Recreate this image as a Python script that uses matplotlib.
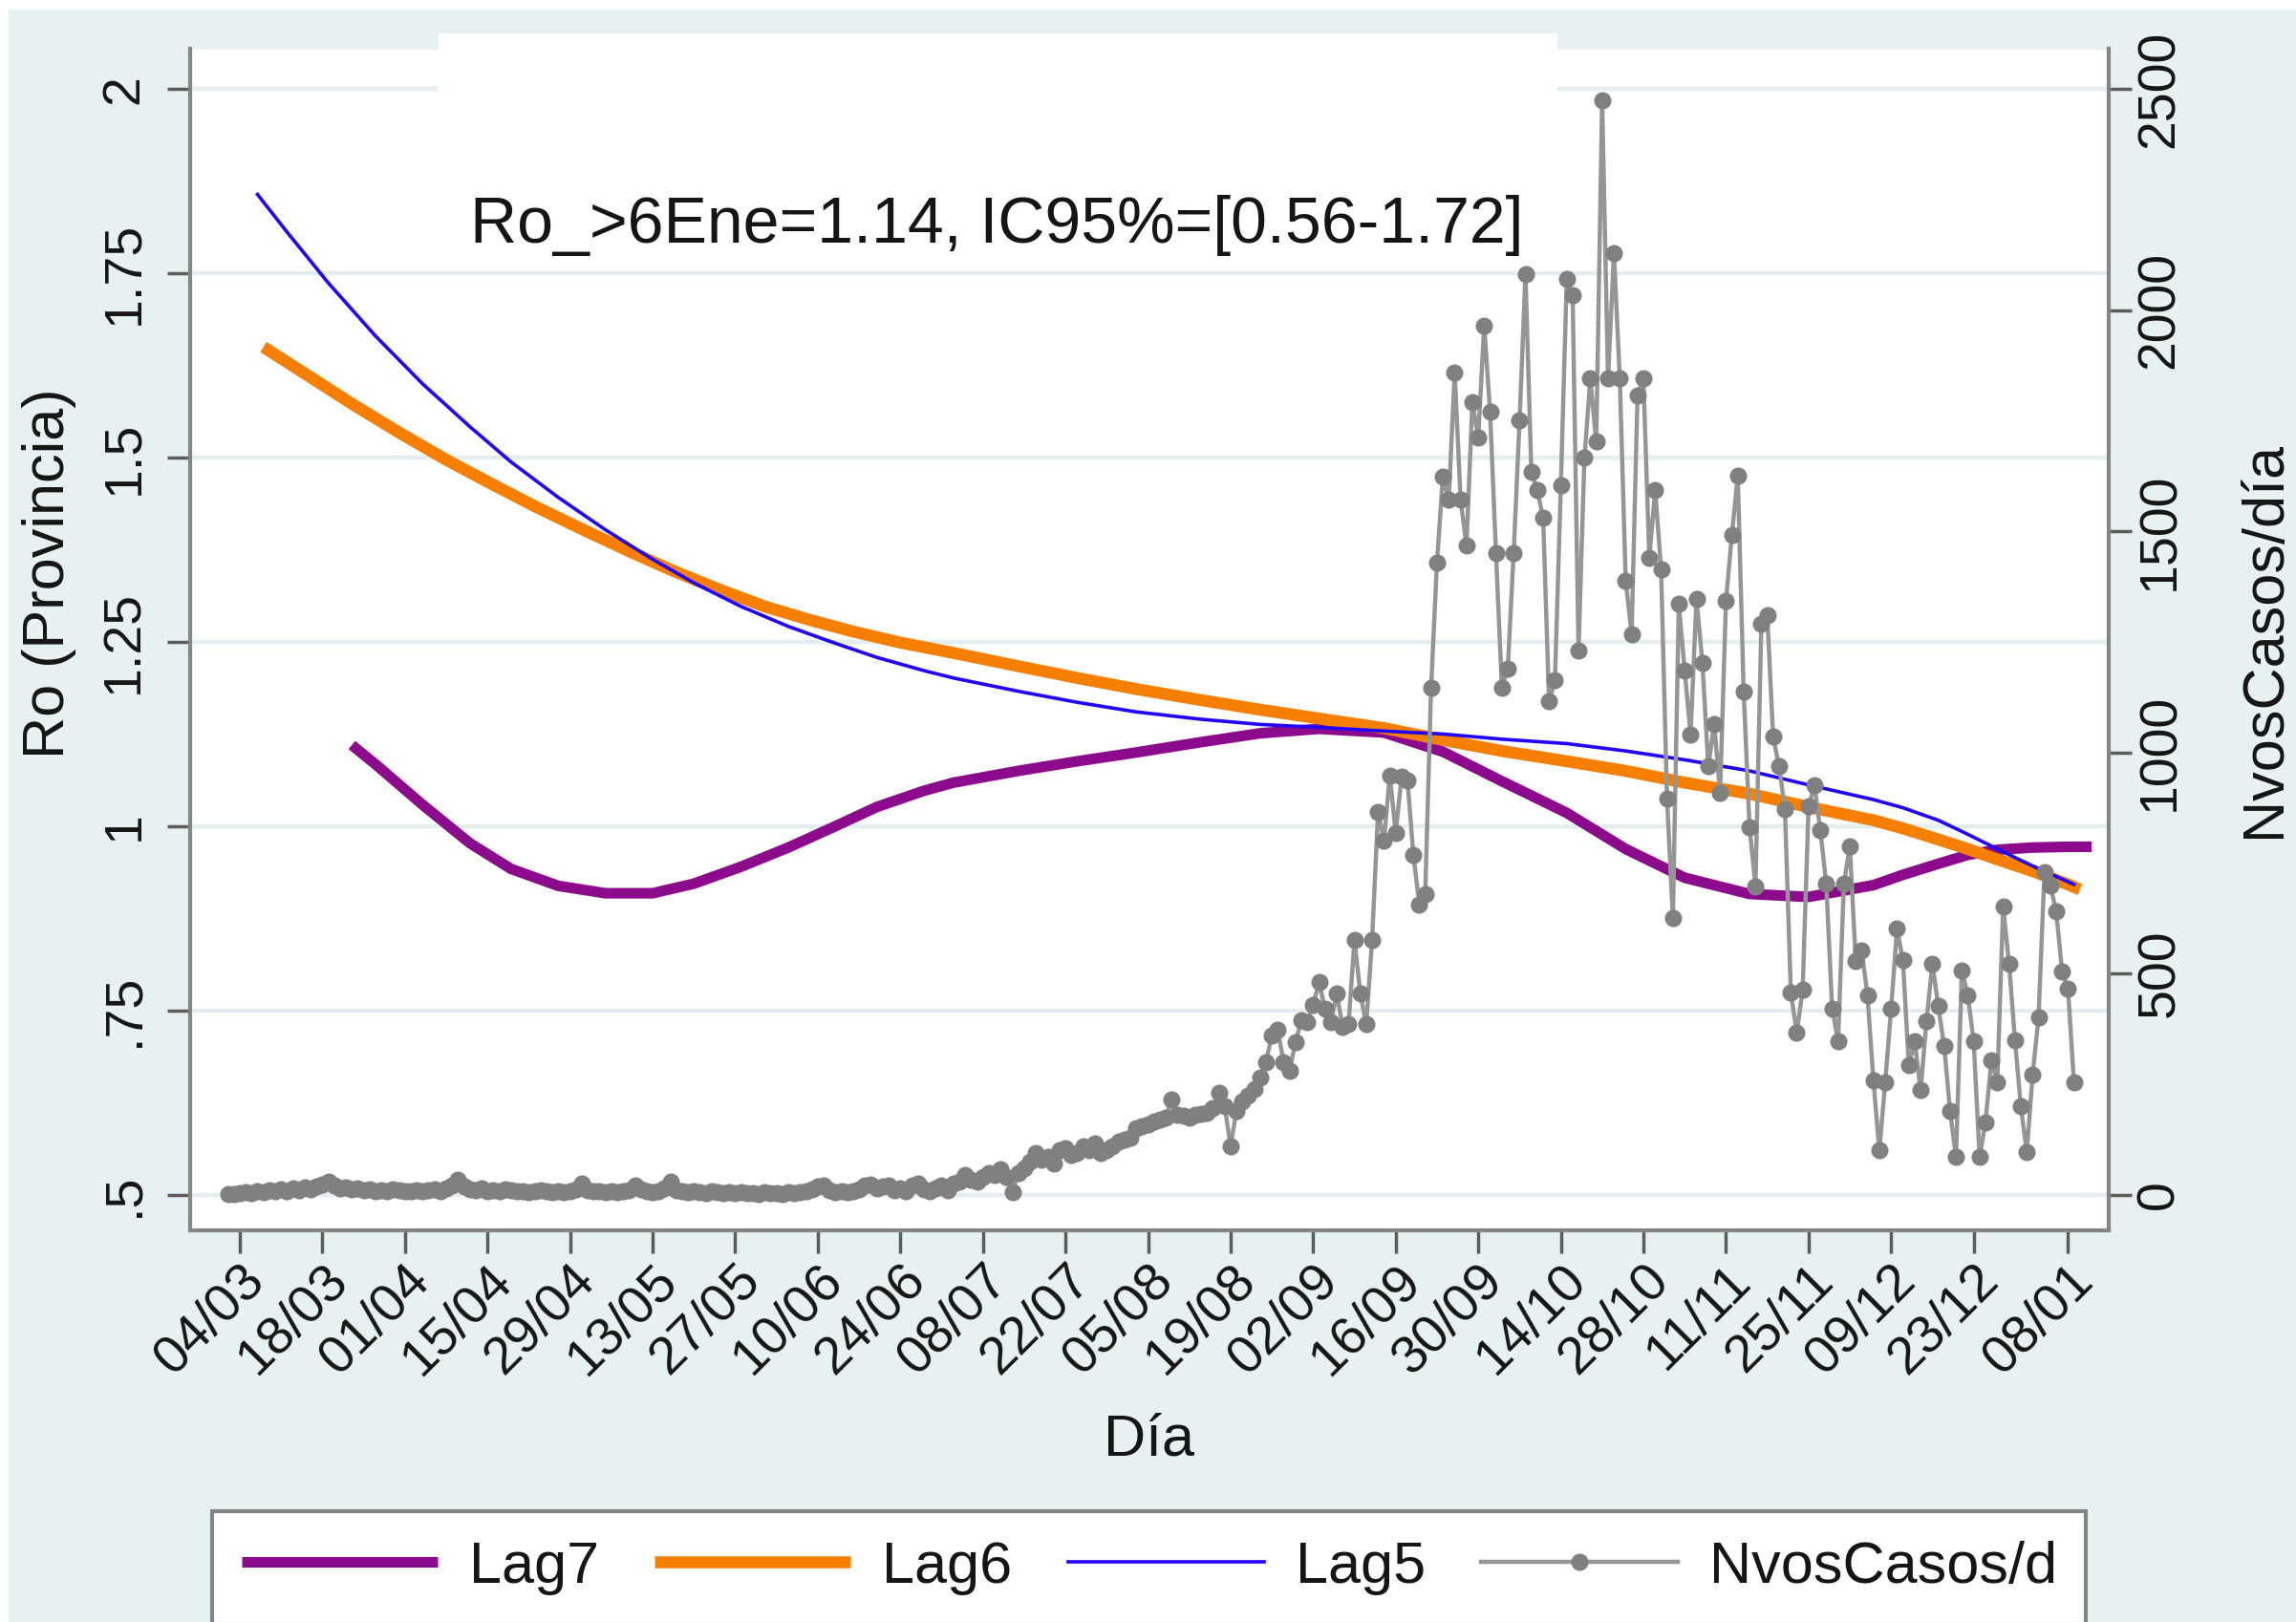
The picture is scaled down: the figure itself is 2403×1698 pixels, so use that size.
import numpy as np
import pandas as pd
import matplotlib
matplotlib.use("Agg")
import matplotlib.pyplot as plt
from matplotlib.patches import Rectangle

plt.rcParams['font.family'] = ['Liberation Sans', 'DejaVu Sans']

# ---------------- data ----------------
DAY0 = pd.Timestamp('2020-03-04')          # day 0 of the axis (first tick)

# daily new cases (right axis), one value per day starting at day -2 (02/03/2020)
cases_first_day = -2
cases = [
    # d -2 .. 117
    1, 2, 3, 5, 4, 8, 6, 10, 7, 12,
    9, 14, 11, 16, 13, 18, 24, 30, 20, 15,
    17, 12, 14, 10, 13, 9, 11, 8, 12, 10,
    9, 7, 11, 8, 10, 12, 9, 15, 22, 35,
    18, 12, 10, 14, 9, 11, 8, 13, 10, 7,
    9, 6, 8, 10, 7, 5, 8, 6, 9, 12,
    25, 10, 7, 9, 6, 8, 5, 7, 10, 22,
    12, 8, 6, 9, 14, 30, 11, 7, 5, 8,
    6, 4, 7, 5, 3, 6, 4, 5, 3, 4,
    2, 5, 3, 4, 2, 6, 3, 5, 8, 12,
    18, 22, 10, 6, 8, 5, 9, 12, 20, 24,
    15, 18, 22, 10, 14, 8, 20, 25, 12, 9,
    # d 118 .. 145
    15, 20, 10, 25, 30, 45, 35, 30, 40, 50,
    45, 58, 40, 5, 50, 60, 75, 95, 80, 85,
    70, 100, 105, 90, 95, 110, 100, 115,
    # d 146 .. 201
    95, 100, 110, 120, 125, 130, 150, 155, 160, 165,
    170, 175, 215, 180, 178, 175, 180, 182, 185, 195,
    230, 200, 110, 190, 210, 225, 240, 265, 300, 360,
    372, 300, 280, 345, 395, 390, 430, 480, 420, 390,
    455, 380, 385, 575, 455, 385, 577, 866, 800, 948,
    818, 946, 936, 768, 657, 680,
    # d 202 .. 311
    1147, 1430, 1624, 1572, 1860, 1572, 1467, 1792, 1713, 1965,
    1771, 1451, 1147, 1189, 1451, 1750, 2081, 1635, 1593, 1530,
    1116, 1163, 1604, 2070, 2033, 1231, 1666, 1845, 1703, 2474,
    1845, 2128, 1845, 1388, 1268, 1808, 1845, 1441, 1593, 1414,
    896, 625, 1336, 1185, 1041, 1348, 1203, 969, 1065, 908,
    1342, 1492, 1625, 1137, 830, 698, 1290, 1310, 1035, 969,
    872, 457, 366, 463, 878, 926, 824, 704, 421, 348,
    704, 788, 529, 553, 451, 258, 100, 254, 420, 601,
    530, 293, 347, 236, 393, 522, 426, 336, 189, 85,
    508, 451, 347, 85, 164, 304, 254, 651, 522, 350,
    200, 96, 272, 401, 730, 700, 640, 504, 465, 254,
]

# fitted Ro curves (left axis): day offset from DAY0 and Ro value
lag7_day = [19, 23, 31, 39, 46, 54, 62, 70, 77, 85, 93, 101, 108, 116, 121, 132,
            142, 152, 163, 173, 183, 194, 204, 214, 225, 235, 245, 256, 266, 277,
            282, 288, 293, 298, 304, 310, 314]
lag7_ro = [1.110, 1.084, 1.029, 0.977, 0.942, 0.919, 0.909, 0.909, 0.922, 0.945,
           0.971, 1.000, 1.026, 1.048, 1.059, 1.075, 1.088, 1.100, 1.114, 1.126,
           1.132, 1.127, 1.101, 1.061, 1.018, 0.969, 0.930, 0.908, 0.904, 0.920,
           0.934, 0.949, 0.961, 0.968, 0.971, 0.972, 0.972]

lag6_day = [4, 12, 19, 27, 35, 43, 50, 58, 66, 73, 81, 89, 97, 104, 112, 121, 132,
            142, 152, 163, 173, 183, 194, 204, 214, 225, 235, 245, 256, 266, 277,
            282, 288, 293, 298, 304, 310, 312]
lag6_ro = [1.650, 1.609, 1.573, 1.534, 1.497, 1.463, 1.434, 1.403, 1.373, 1.348,
           1.322, 1.298, 1.279, 1.264, 1.249, 1.235, 1.217, 1.201, 1.186, 1.171,
           1.158, 1.146, 1.133, 1.117, 1.102, 1.088, 1.075, 1.059, 1.044, 1.026,
           1.008, 0.997, 0.982, 0.969, 0.955, 0.939, 0.921, 0.914]

lag5_day = [3, 8, 15, 23, 31, 39, 46, 54, 62, 70, 77, 85, 93, 101, 108, 116, 121,
            132, 142, 152, 163, 173, 183, 194, 204, 214, 225, 235, 245, 256, 266,
            277, 282, 288, 293, 298, 304, 311]
lag5_ro = [1.857, 1.806, 1.737, 1.665, 1.600, 1.542, 1.494, 1.446, 1.402, 1.362,
           1.330, 1.298, 1.271, 1.248, 1.229, 1.211, 1.201, 1.183, 1.168, 1.155,
           1.145, 1.138, 1.134, 1.129, 1.125, 1.118, 1.112, 1.102, 1.090, 1.075,
           1.056, 1.036, 1.025, 1.008, 0.989, 0.969, 0.946, 0.921]

series_labels = ['Lag7', 'Lag6', 'Lag5', 'NvosCasos/d']

tick_dates = ['2020-03-04', '2020-03-18', '2020-04-01', '2020-04-15', '2020-04-29',
              '2020-05-13', '2020-05-27', '2020-06-10', '2020-06-24', '2020-07-08',
              '2020-07-22', '2020-08-05', '2020-08-19', '2020-09-02', '2020-09-16',
              '2020-09-30', '2020-10-14', '2020-10-28', '2020-11-11', '2020-11-25',
              '2020-12-09', '2020-12-23', '2021-01-08']
tick_labels = ['04/03', '18/03', '01/04', '15/04', '29/04', '13/05', '27/05', '10/06',
               '24/06', '08/07', '22/07', '05/08', '19/08', '02/09', '16/09', '30/09',
               '14/10', '28/10', '11/11', '25/11', '09/12', '23/12', '08/01']

ro_ticks = [0.5, 0.75, 1, 1.25, 1.5, 1.75, 2]
ro_tick_labels = ['.5', '.75', '1', '1.25', '1.5', '1.75', '2']
case_ticks = [0, 500, 1000, 1500, 2000, 2500]
case_tick_labels = ['0', '500', '1000', '1500', '2000', '2500']

annotation = 'Ro_>6Ene=1.14, IC95%=[0.56-1.72]'
x_title = 'Día'
y_title = 'Ro (Provincia)'
y2_title = 'NvosCasos/día'

# ---------------- style ----------------
BG = '#E8F1F2'
PURPLE = '#8C0A8C'
ORANGE = '#F77F00'
BLUE = '#2200FF'
GRAY_LINE = '#959595'
GRAY_MARK = '#808080'
SPINE = '#858585'
TICKC = '#5c5c5c'
TXT = '#151515'
GRID = '#E4EEF1'


def to_dates(days):
    return DAY0 + pd.to_timedelta(np.asarray(days, dtype=float), unit='D')


W, H = 2403, 1698
fig = plt.figure(figsize=(W / 100, H / 100), dpi=100)
fig.patch.set_facecolor('white')
fig.add_artist(Rectangle((9 / W, 0), 1 - 9 / W, 1 - 10 / H, transform=fig.transFigure,
                         facecolor=BG, edgecolor='none', zorder=-10))

L, R, T, B = 199, 2207, 51.5, 1288
ax = fig.add_axes([L / W, 1 - B / H, (R - L) / W, (B - T) / H])
ax.set_facecolor('white')

l7, = ax.plot(to_dates(lag7_day), lag7_ro, color=PURPLE, lw=8, solid_capstyle='butt',
              solid_joinstyle='round', zorder=3, label=series_labels[0])
l6, = ax.plot(to_dates(lag6_day), lag6_ro, color=ORANGE, lw=9, solid_capstyle='butt',
              solid_joinstyle='round', zorder=4, label=series_labels[1])
l5, = ax.plot(to_dates(lag5_day), lag5_ro, color=BLUE, lw=2.6, solid_joinstyle='round',
              zorder=5, label=series_labels[2])

ax2 = ax.twinx()
case_days = np.arange(cases_first_day, cases_first_day + len(cases))
lc, = ax2.plot(to_dates(case_days), cases, color=GRAY_LINE, lw=3.2, marker='o', ms=13,
               mfc=GRAY_MARK, mec=GRAY_MARK, mew=0, zorder=3, label=series_labels[3])

ax.set_xlim(to_dates([-8.42])[0], to_dates([316.9])[0])
ax.set_ylim(0.4517, 2.054)
ax2.set_ylim(-80.5, 2590)

ax.set_yticks(ro_ticks)
ax.set_yticklabels(ro_tick_labels)
ax2.set_yticks(case_ticks)
ax2.set_yticklabels(case_tick_labels)
ax.set_xticks(pd.to_datetime(tick_dates))
ax.set_xticklabels(tick_labels)

ax.grid(axis='y', color=GRID, lw=3.2)
ax.grid(axis='x', visible=False)
ax.set_axisbelow(True)

for s in ['top', 'right']:
    ax.spines[s].set_visible(False)
for s in ['left', 'bottom']:
    ax.spines[s].set_color(SPINE)
    ax.spines[s].set_linewidth(3)
for s in ['top', 'left', 'bottom']:
    ax2.spines[s].set_visible(False)
ax2.spines['right'].set_color(SPINE)
ax2.spines['right'].set_linewidth(3)

ax.tick_params(axis='x', length=17, width=2.5, color=TICKC, labelsize=40, pad=2,
               labelcolor=TXT)
ax.tick_params(axis='y', length=17, width=2.5, color=TICKC, labelsize=40, pad=13.5,
               labelrotation=90, labelcolor=TXT)
ax2.tick_params(axis='y', length=17, width=2.5, color=TICKC, labelsize=40, pad=3,
                labelrotation=90, labelcolor=TXT)
for lab in ax.get_yticklabels() + ax2.get_yticklabels():
    lab.set_va('center')
for lab in ax.get_xticklabels():
    lab.set_rotation(45)
    lab.set_rotation_mode('anchor')
    lab.set_ha('right')
    lab.set_va('top')

ax.set_xlabel(x_title, fontsize=44, color=TXT)
ax.xaxis.set_label_coords(0.5, -0.1546)
ax.set_ylabel(y_title, fontsize=44, color=TXT)
ax.yaxis.set_label_coords((52 - L) / (R - L), 0.556)
ax.yaxis.label.set_va('center')
ax2.set_ylabel(y2_title, fontsize=44, color=TXT)
ax2.yaxis.set_label_coords((2370 - L) / (R - L), 0.5)
ax2.yaxis.label.set_va('center')

ax.text(0.1459, 0.8362, annotation, transform=ax.transAxes, fontsize=49,
        ha='left', va='baseline', color=TXT, zorder=6)

# white strip above the plot region (as in the reference)
fig.add_artist(Rectangle((459 / W, 1 - 105 / H), (1630 - 459) / W, (105 - 35) / H,
                         transform=fig.transFigure, facecolor='white',
                         edgecolor='none', zorder=1))

leg = fig.legend([l7, l6, l5, lc], series_labels, loc='upper left',
                 bbox_to_anchor=(222 / W, 1 - 1582 / H), bbox_transform=fig.transFigure,
                 ncol=4, frameon=True, fancybox=False, framealpha=1, fontsize=44,
                 handlelength=3.36, handletextpad=0.54, columnspacing=0.95,
                 borderpad=0.5, borderaxespad=0, numpoints=1)
leg.get_frame().set_edgecolor(SPINE)
leg.get_frame().set_linewidth(3)
leg.get_frame().set_facecolor('white')
for t in leg.get_texts():
    t.set_color(TXT)

fig.savefig('out.png', dpi=100)
